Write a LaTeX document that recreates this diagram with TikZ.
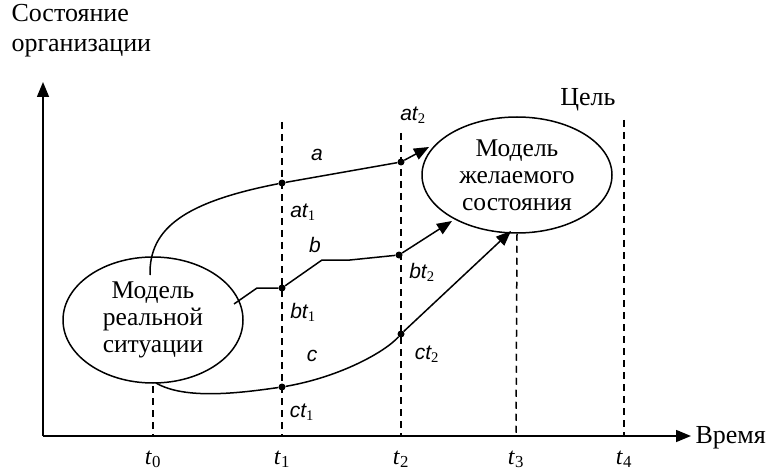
\documentclass[tikz,border=0pt]{standalone}
\usepackage{fontspec}
\setmainfont{Liberation Serif}
\setsansfont{Liberation Sans}
\usetikzlibrary{shapes.geometric,arrows.meta}
\tikzset{
  model/.style={ellipse, draw, line width=1.5pt, inner sep=0pt, align=center,
    font=\fontsize{25.5}{27}\selectfont},
  dot/.style={circle, fill, inner sep=0pt, minimum size=7pt},
  guide/.style={line width=1.5pt, dash pattern=on 7pt off 5pt},
  route/.style={line width=1.5pt},
  arr/.style={line width=1.5pt, -{Triangle[length=15pt,width=12pt]}},
  lbl/.style={font=\fontsize{26}{30}\selectfont},
  plbl/.style={font=\fontsize{21}{24}\selectfont},
  tick/.style={font=\fontsize{24}{26}\selectfont, anchor=base, inner sep=1pt},
}
\newcommand{\tlab}[1]{\textit{t}\textsubscript{#1}}
\newcommand{\plab}[2]{{\sffamily\itshape #1}\textsubscript{#2}}
\begin{document}
\begin{tikzpicture}[x=1pt, y=-1pt]
  \useasboundingbox (0,0) rectangle (771,473);
  % Axes
  \coordinate (O) at (43,436);
  \coordinate (yend) at (43,82);
  \coordinate (xend) at (691,436);
  \draw[arr] (O) -- (yend);
  \draw[arr] (O) -- (xend);
  \node[lbl, anchor=north west, align=left] (ylab) at (8,1) {Состояние\\организации};
  \node[lbl, anchor=west] (xlab) at (692,438) {Время};

  % Nodes
  \node[model, minimum width=180pt, minimum height=126pt] (real) at (153,320) {Модель\\реальной\\ситуации};
  \node[model, minimum width=190pt, minimum height=116pt] (goal) at (517,175) {Модель\\желаемого\\состояния};
  \node[lbl] (goallab) at (588,100) {Цель};

  \node[dot] (at1) at (282,183) {};
  \node[dot] (at2) at (401,162) {};
  \node[dot] (bt1) at (282,288) {};
  \node[dot] (bt2) at (399,255) {};
  \node[dot] (ct1) at (282,387) {};
  \node[dot] (ct2) at (401,334) {};

  % Time marks
  \node[tick] (t0) at (153,464) {\tlab{0}};
  \node[tick] (t1) at (282,464) {\tlab{1}};
  \node[tick] (t2) at (401,464) {\tlab{2}};
  \node[tick] (t3) at (516,464) {\tlab{3}};
  \node[tick] (t4) at (624,464) {\tlab{4}};
  \coordinate (g0) at (153,386);  \coordinate (b0) at (153,436);
  \coordinate (g1) at (282,122);  \coordinate (b1) at (282,436);
  \coordinate (g2) at (401,133);  \coordinate (b2) at (401,436);
  \coordinate (b3) at (516,436);
  \coordinate (g4) at (624,120);  \coordinate (b4) at (624,436);
  \draw[guide] (g0) -- (b0);
  \draw[guide] (g1) -- (b1);
  \draw[guide] (g2) -- (b2);
  \draw[guide] (goal.south) -- (b3);
  \draw[guide] (g4) -- (b4);

  % Path a
  \coordinate (as) at (150,275);
  \coordinate (ae) at (429,147);
  \draw[route] (as) .. controls (149,228) and (185,202) .. (at1) -- (at2);
  \draw[arr] (at2) -- (ae);
  \node[plbl] (la) at (317,155) {\sffamily\itshape a};
  \node[plbl] (lat1) at (303,212) {\plab{at}{1}};
  \node[plbl] (lat2) at (413,115) {\plab{at}{2}};

  % Path b
  \coordinate (bs) at (234,304);
  \coordinate (bk) at (257,288);
  \coordinate (bm) at (322,260);
  \coordinate (bn) at (350,260);
  \coordinate (be) at (452,221);
  \draw[route] (bs) -- (bk) -- (bt1) -- (bm) -- (bn) -- (bt2);
  \draw[arr] (bt2) -- (be);
  \node[plbl] (lb) at (315,245) {\sffamily\itshape b};
  \node[plbl] (lbt1) at (303,312) {\plab{bt}{1}};
  \node[plbl] (lbt2) at (422,272) {\plab{bt}{2}};

  % Path c
  \coordinate (cs) at (156,383);
  \coordinate (ce) at (511,231);
  \draw[route] (cs) .. controls (185,400) and (240,393) .. (ct1)
    .. controls (340,377) and (385,352) .. (ct2);
  \draw[arr] (ct2) -- (ce);
  \node[plbl] (lc) at (312,356) {\sffamily\itshape c};
  \node[plbl] (lct1) at (302,412) {\plab{ct}{1}};
  \node[plbl] (lct2) at (427,354) {\plab{ct}{2}};
\end{tikzpicture}
\end{document}
